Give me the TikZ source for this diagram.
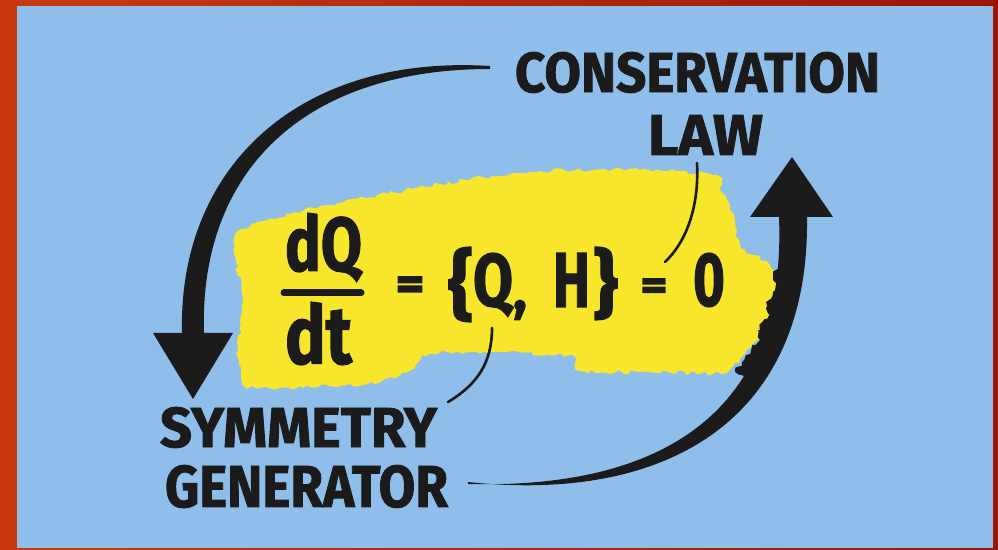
\documentclass[tikz,border=0pt]{standalone}
\usepackage{fontspec}
\setmainfont{Fira Sans}[BoldFeatures={FakeBold=1.5}]
\newfontfamily\eqfont{Fira Sans}[BoldFeatures={FakeBold=4}]
\usepackage{graphicx}
\usetikzlibrary{decorations.pathmorphing}
\definecolor{bgblue}{HTML}{8FBEEB}
\definecolor{frameL}{HTML}{C8390F}
\definecolor{frameR}{HTML}{9C1607}
\definecolor{hl}{HTML}{F7E62C}
\definecolor{ink}{HTML}{1B1B1B}
\newlength\px \setlength\px{0.02cm}
\newcommand\fitbox[3]{\resizebox*{#1\px}{#2\px}{\bfseries #3}}
\pgfmathsetseed{7}
\begin{document}
\begin{tikzpicture}[x=0.02cm,y=-0.02cm,
  lbl/.style={inner sep=0pt, outer sep=0pt, anchor=south west, text=ink},
  leader/.style={draw=ink, line width=1.5pt, line cap=round},
  fracbar/.style={draw=ink, line width=7\px, line cap=round},
  brush/.style={decorate, decoration={random steps, segment length=2.5pt, amplitude=1.2pt}}]
\useasboundingbox (0,0) rectangle (998,550);
% frame and background
\shade[left color=frameL, right color=frameR] (0,0) rectangle (998,550);
\fill[bgblue] (17,6) rectangle (993,548);
% yellow highlight
\fill[hl, brush] plot[smooth cycle, tension=0.5] coordinates {
  (238,232) (290,214) (340,203) (440,184) (540,171) (640,170) (712,175)
  (722,192) (735,222) (742,248) (767,262) (780,282) (778,308) (767,328)
  (750,348) (733,366) (715,373) (640,372) (580,371) (570,357) (500,352)
  (430,354) (410,370) (380,382) (330,386) (260,388) (244,384) (238,350)
  (243,300) (236,262)};
% left arrow (tapered)
\coordinate (la0) at (490,68);
\coordinate (laTip) at (193,399);
\fill[ink] (490,66) .. controls (298,54) and (178,168) .. (182,333)
  -- (153,333) -- (laTip) -- (233,333) -- (204,333)
  .. controls (199,172) and (303,69) .. (490,69) -- cycle;
% right arrow (tapered)
\coordinate (ra0) at (468,483);
\coordinate (raTip) at (792,157);
\fill[ink] (468,482) .. controls (662,503) and (810,424) .. (807,217)
  -- (833,217) -- (raTip) -- (750,217) -- (779,217)
  .. controls (787,416) and (658,489) .. (468,484) -- cycle;
% rough brush patch where the arrow crosses the highlight
\fill[ink, decorate, decoration={random steps, segment length=2pt, amplitude=1.5pt}]
  (782,262) -- (773,275) -- (776,288) -- (766,302) -- (770,314) -- (758,330)
  -- (760,340) -- (746,355) -- (735,372) -- (745,378) -- (770,350) -- (785,310)
  -- (790,262) -- cycle;
% labels
\node[lbl] (cons) at (515,93) {\fitbox{365}{41}{CONSERVATION}};
\node[lbl] (law) at (648,155) {\fitbox{115}{40}{LAW}};
\node[lbl] (sym) at (160,448) {\fitbox{277}{41}{SYMMETRY}};
\node[lbl] (gen) at (165,508) {\fitbox{283}{43}{GENERATOR}};
% formula
\node[lbl] (dQ) at (285,282) {\fitbox{77}{69}{dQ}};
\node[lbl] (dt) at (285,365) {\fitbox{67}{63}{dt}};
\coordinate (barL) at (284,293);
\coordinate (barR) at (361,293);
\draw[fracbar] (barL) -- (barR);
\node[lbl] (eq1) at (396,299) {\fitbox{28}{22}{\eqfont =}};
\node[lbl] (lb) at (448,322) {\fitbox{25}{75}{\{}};
\node[lbl] (Q) at (473,317) {\fitbox{40}{64}{Q}};
\node[lbl] (comma) at (513,320) {\fitbox{14}{20}{,}};
\node[lbl] (H) at (553,307) {\fitbox{37}{54}{H}};
\node[lbl] (rb) at (593,320) {\fitbox{25}{73}{\}}};
\node[lbl] (eq2) at (641,299) {\fitbox{26}{20}{\eqfont =}};
\node[lbl] (zero) at (693,307) {\fitbox{32}{54}{0}};
% leader lines
\coordinate (lawT) at (697,163);
\coordinate (lawB) at (665,262);
\draw[leader] (lawT) .. controls (699,200) and (690,238) .. (lawB);
\coordinate (qT) at (492,328);
\coordinate (qB) at (448,402);
\draw[leader] (qT) .. controls (492,362) and (478,384) .. (qB);
\end{tikzpicture}
\end{document}
